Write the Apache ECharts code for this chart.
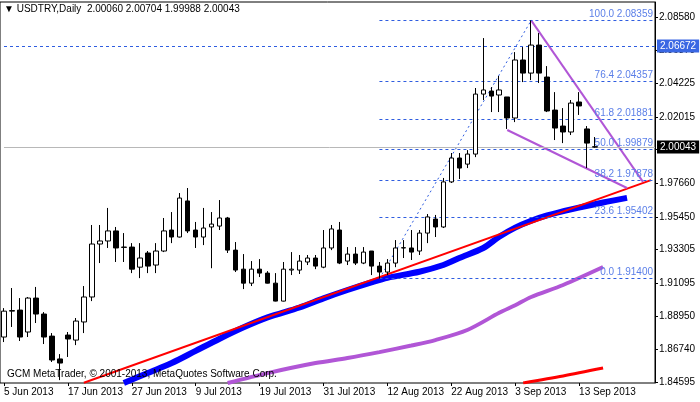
<!DOCTYPE html>
<html><head><meta charset="utf-8">
<script src="https://cdn.jsdelivr.net/npm/echarts@6/dist/echarts.min.js"></script>
<style>html,body{margin:0;padding:0;background:#fff}#c{width:700px;height:402px}</style>
</head><body><div id="c"></div>
<script>
// OHLC: [open, close, low, high]
const candles = [
[1.8756,1.8926,1.8723,1.8946],[1.8926,1.8930,1.8822,1.9078],[1.8933,1.8756,1.8730,1.9012],[1.8789,1.9012,1.8756,1.9019],
[1.9012,1.8907,1.8848,1.9085],[1.8907,1.8756,1.8710,1.8920],[1.8762,1.8605,1.8592,1.8782],[1.8612,1.8585,1.8473,1.8644],
[1.8769,1.8743,1.8625,1.8789],[1.8736,1.8861,1.8703,1.8881],[1.8855,1.9019,1.8782,1.9091],[1.9019,1.9367,1.8992,1.9492],
[1.9367,1.9387,1.9242,1.9492],[1.9387,1.9453,1.9341,1.9604],[1.9453,1.9341,1.9249,1.9479],[1.9347,1.9345,1.9249,1.9439],
[1.9347,1.9202,1.9176,1.9373],[1.9215,1.9275,1.9143,1.9373],[1.9308,1.9222,1.9176,1.9321],[1.9229,1.9321,1.9176,1.9373],
[1.9321,1.9453,1.9314,1.9538],[1.9459,1.9413,1.9373,1.9577],[1.9413,1.9669,1.9410,1.9702],[1.9650,1.9453,1.9439,1.9735],
[1.9459,1.9413,1.9341,1.9512],[1.9413,1.9472,1.9360,1.9604],[1.9479,1.9498,1.9208,1.9577],[1.9485,1.9538,1.9459,1.9656],
[1.9538,1.9327,1.9308,1.9545],[1.9327,1.9196,1.9183,1.9380],[1.9202,1.9110,1.9071,1.9301],[1.9110,1.9202,1.9091,1.9255],
[1.9202,1.9176,1.9150,1.9268],[1.9176,1.9110,1.9108,1.9189],[1.9110,1.8992,1.8990,1.9176],[1.8992,1.9202,1.8990,1.9249],
[1.9196,1.9202,1.9163,1.9314],[1.9196,1.9255,1.9170,1.9295],[1.9249,1.9275,1.9229,1.9295],[1.9275,1.9222,1.9202,1.9295],
[1.9215,1.9341,1.9208,1.9459],[1.9341,1.9466,1.9327,1.9492],[1.9459,1.9242,1.9235,1.9512],[1.9255,1.9301,1.9229,1.9347],
[1.9301,1.9242,1.9229,1.9347],[1.9242,1.9314,1.9235,1.9347],[1.9321,1.9222,1.9163,1.9321],[1.9222,1.9183,1.9140,1.9249],
[1.9183,1.9242,1.9163,1.9268],[1.9242,1.9341,1.9215,1.9393],[1.9341,1.9343,1.9275,1.9393],[1.9341,1.9314,1.9262,1.9459],
[1.9321,1.9439,1.9295,1.9459],[1.9439,1.9545,1.9373,1.9564],[1.9531,1.9479,1.9413,1.9558],[1.9479,1.9775,1.9472,1.9801],
[1.9775,1.9932,1.9768,1.9965],[1.9932,1.9866,1.9794,1.9965],[1.9892,1.9958,1.9866,1.9984],[1.9958,2.0352,1.9938,2.0392],
[2.0352,2.0379,2.0313,2.0720],[2.0372,2.0339,2.0234,2.0398],[2.0346,2.0379,2.0234,2.0471],[2.0333,2.0195,2.0123,2.0333],
[2.0195,2.0576,2.0168,2.0628],[2.0576,2.0490,2.0431,2.0661],[2.0490,2.0674,2.0444,2.0836],[2.0674,2.0490,2.0425,2.0753],
[2.0464,2.0241,2.0234,2.0536],[2.0247,2.0129,2.0050,2.0365],[2.0142,2.0103,2.0030,2.0260],[2.0103,2.0293,2.0083,2.0313],
[2.0300,2.0274,2.0215,2.0365],[2.0123,2.0030,1.9866,2.0142],[2.0006,2.0004,1.9999,2.0070]
];
const totalSlots = 82;
const startDate = [2013, 6, 5];
const priceTicks = [2.08580,2.06370,2.04225,2.02015,1.99870,1.97660,1.95450,1.93305,1.91095,1.88950,1.86740,1.84595];
const fibLevels = [[100.0,2.08359],[76.4,2.04357],[61.8,2.01881],[50.0,1.99879],[38.2,1.97878],[23.6,1.95402],[0.0,1.91400]];
const fibStartIdx = 47;
const fibSwing = [[47,1.9140],[66,2.0836]];
const blueMA = [[15,1.8454],[18,1.8520],[21,1.8585],[24,1.8665],[27,1.8745],[30,1.8820],[33,1.8885],[37,1.8950],[40,1.9010],[43,1.9065],[46,1.9115],[48,1.9145],[52,1.9185],[55,1.9229],[57,1.9275],[60,1.9341],[62,1.9415],[64,1.9475],[66,1.9520],[68,1.9555],[71,1.9595],[75,1.9640],[78,1.9670]];
const purpleMA = [[28,1.8454],[33,1.8519],[39,1.8585],[43,1.8618],[47,1.8657],[51,1.8700],[54,1.8736],[58,1.8802],[62,1.8915],[64,1.8965],[66,1.9019],[70,1.9098],[75,1.9216]];
const redMA = [[65,1.8454],[70,1.8500],[75,1.8552]];
const redTrend = [[10,1.8456],[81,1.9787]];
const wedgeUpper = [[66,2.0836],[80,1.9775]];
const wedgeLower = [[63,2.0116],[78,1.9735]];
const hLine = 2.06672;
const bidPrice = 2.00043;
const titleText = '\u25BC USDTRY,Daily  2.00060 2.00704 1.99988 2.00043';
const copyText = 'GCM MetaTrader, \u00A9 2001-2013, MetaQuotes Software Corp.';

const months=['Jan','Feb','Mar','Apr','May','Jun','Jul','Aug','Sep','Oct','Nov','Dec'];
const dates=[];
{ let d=new Date(Date.UTC(startDate[0],startDate[1]-1,startDate[2]));
  while(dates.length<totalSlots){ const w=d.getUTCDay(); if(w!==0&&w!==6) dates.push(d.getUTCDate()+' '+months[d.getUTCMonth()]+' '+d.getUTCFullYear()); d=new Date(d.getTime()+86400000);} }

const F='Liberation Sans';
const chart=echarts.init(document.getElementById('c'),null,{renderer:'canvas'});
const lineS=(data,color,width,extra)=>Object.assign({type:'line',data,symbol:'none',silent:true,connectNulls:true,smooth:0.3,lineStyle:{color,width},z:3,animation:false},extra||{});
chart.setOption({
  animation:false,
  grid:{left:-1,right:45,top:2,bottom:19,show:true,borderColor:'#000',borderWidth:1,backgroundColor:'#fff'},
  xAxis:{type:'category',data:dates,boundaryGap:true,
    axisLine:{show:false},axisTick:{show:true,interval:(i)=>i%8===0&&i<=72,length:3,lineStyle:{color:'#000'},alignWithLabel:true},
    axisLabel:{interval:(i)=>i%8===0&&i<=72,align:'left',fontFamily:F,fontSize:10,color:'#000',margin:4},splitLine:{show:false}},
  yAxis:{type:'value',position:'right',min:1.8454,max:2.0957,scale:true,
    axisLine:{show:true,lineStyle:{color:'#000'}},
    axisTick:{show:true,customValues:priceTicks,length:3,lineStyle:{color:'#000'}},
    axisLabel:{customValues:priceTicks,formatter:v=>v.toFixed(5),fontFamily:F,fontSize:10,color:'#000',margin:4},
    splitLine:{show:false}},
  graphic:[
    {type:'text',left:4,top:4,style:{text:titleText,fontFamily:F,fontSize:10,fill:'#000'}},
    {type:'text',left:7,top:369,style:{text:copyText,fontFamily:F,fontSize:10,fill:'#000'},z:10}
  ],
  series:[
    {type:'line',data:[],markLine:{silent:true,symbol:'none',animation:false,
      data:[
        [{coord:[0,hLine],lineStyle:{color:'#2f5de0',type:[3,3],width:1},label:{show:true,position:'end',formatter:hLine.toFixed(5),backgroundColor:'#3a67e3',color:'#fff',fontFamily:F,fontSize:10,padding:[2,3,1,3],distance:2}},{coord:[totalSlots-1,hLine],x:655}],
        [{coord:[0,bidPrice],lineStyle:{color:'#b8b8b8',type:'solid',width:1},label:{show:true,position:'end',formatter:bidPrice.toFixed(5),backgroundColor:'#000',color:'#fff',fontFamily:F,fontSize:10,padding:[2,3,1,3],distance:2}},{coord:[totalSlots-1,bidPrice],x:655}]
      ].concat(fibLevels.map(([p,v])=>[{coord:[fibStartIdx,v],lineStyle:{color:'#2f5de0',type:[3,3],width:1},
        label:{show:true,position:'insideEndTop',formatter:p.toFixed(1)+' '+v.toFixed(5),color:'#5b7fe8',fontFamily:F,fontSize:10,distance:[0,1]}},{coord:[totalSlots-1,v],x:653}]))
    }},
    lineS(purpleMA,'#b156d6',4),
    lineS(redMA,'#ff0000',3),
    lineS(blueMA,'#0000ff',6),
    lineS(redTrend,'#ff0000',2,{z:4,smooth:false}),
    lineS(fibSwing,'#2f5de0',1,{smooth:false,lineStyle:{color:'#2f5de0',width:1,type:[2,3]}}),
    lineS(wedgeUpper,'#b156d6',2,{z:4,smooth:false}),
    lineS(wedgeLower,'#b156d6',2,{z:4,smooth:false}),
    {type:'candlestick',data:candles,barWidth:5,z:5,silent:true,
      itemStyle:{color:'#fff',color0:'#000',borderColor:'#000',borderColor0:'#000',borderWidth:1}}
  ]
});
</script></body></html>
